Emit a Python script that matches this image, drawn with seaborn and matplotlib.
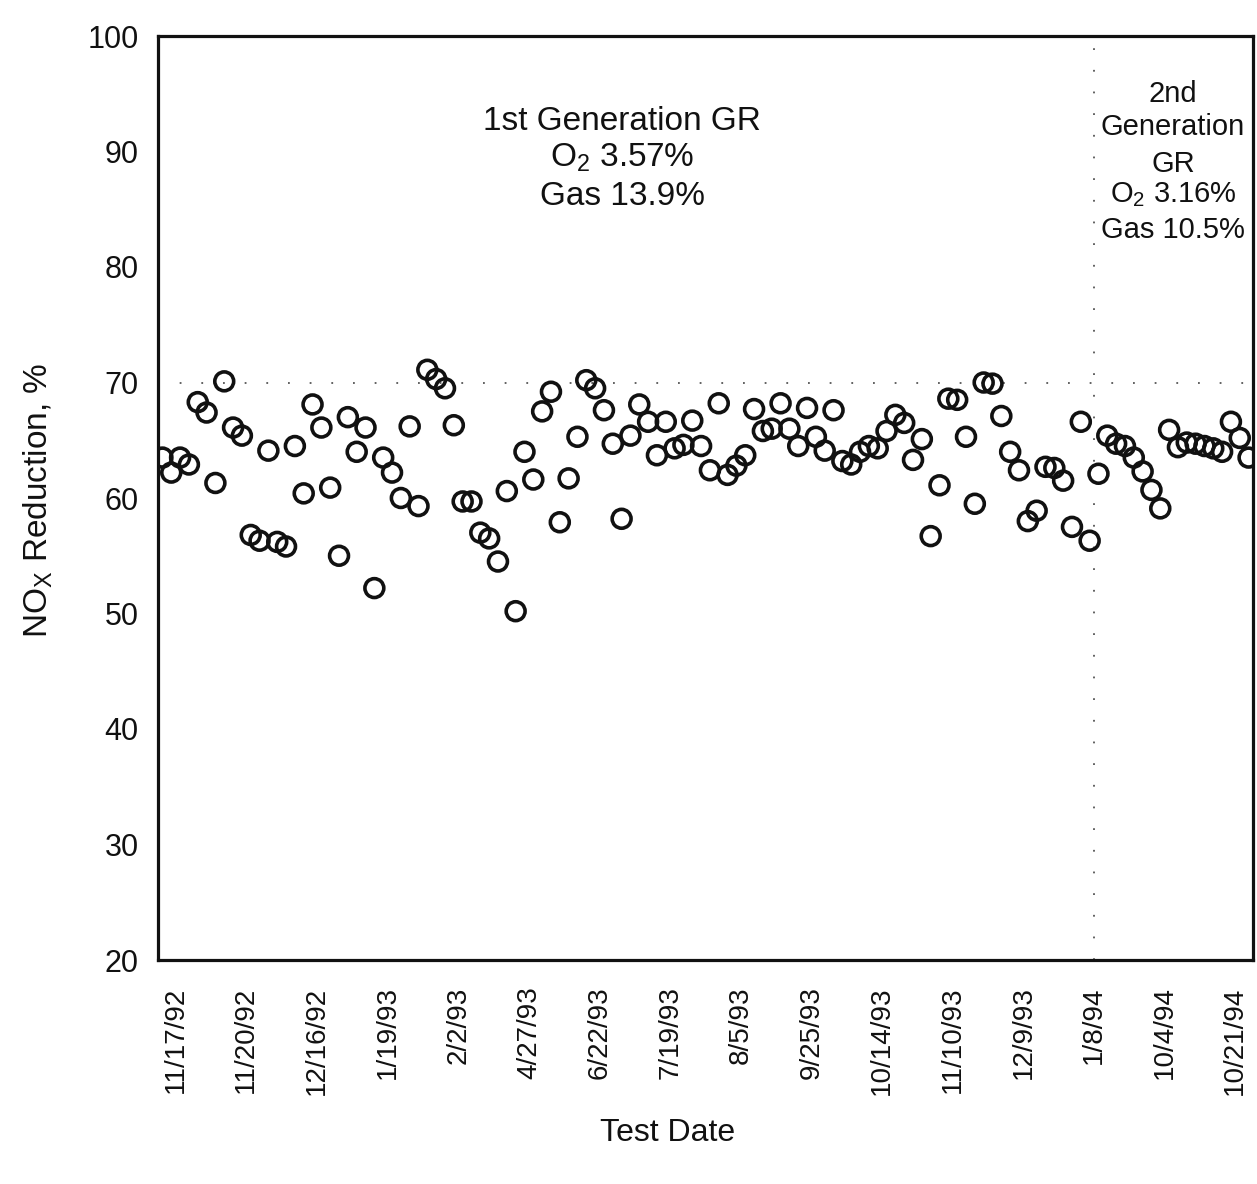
import numpy as np
import pandas as pd
import matplotlib
matplotlib.use("Agg")
import matplotlib.pyplot as plt
import seaborn as sns

# ---- data ----
nox_reduction = [
    63.5, 62.2, 63.5, 62.9, 68.3, 67.4, 61.3, 70.1, 66.1, 65.4,
    56.8, 56.3, 64.1, 56.2, 55.8, 64.5, 60.4, 68.1, 66.1, 60.9,
    55.0, 67.0, 64.0, 66.1, 52.2, 63.5, 62.2, 60.0, 66.2, 59.3,
    71.1, 70.3, 69.5, 66.3, 59.7, 59.7, 57.0, 56.5, 54.5, 60.6,
    50.2, 64.0, 61.6, 67.5, 69.2, 57.9, 61.7, 65.3, 70.2, 69.5,
    67.6, 64.7, 58.2, 65.4, 68.1, 66.6, 63.7, 66.6, 64.3, 64.6,
    66.7, 64.5, 62.4, 68.2, 62.0, 62.8, 63.7, 67.7, 65.8, 66.0,
    68.2, 66.0, 64.5, 67.8, 65.3, 64.1, 67.6, 63.2, 62.9, 64.0,
    64.5, 64.3, 65.8, 67.2, 66.5, 63.3, 65.1, 56.7, 61.1, 68.6,
    68.5, 65.3, 59.5, 70.0, 69.9, 67.1, 64.0, 62.4, 58.0, 58.9,
    62.7, 62.6, 61.5, 57.5, 66.6, 56.3, 62.1, 65.4, 64.7, 64.5,
    63.5, 62.3, 60.7, 59.1, 65.9, 64.4, 64.8, 64.7, 64.5, 64.3,
    64.0, 66.6, 65.2, 63.5,
]
tick_labels = ["11/17/92", "11/20/92", "12/16/92", "1/19/93", "2/2/93",
               "4/27/93", "6/22/93", "7/19/93", "8/5/93", "9/25/93",
               "10/14/93", "11/10/93", "12/9/93", "1/8/94", "10/4/94",
               "10/21/94"]
first_gen_count = 106   # tests before the 2nd generation GR
y_ticks = [20, 30, 40, 50, 60, 70, 80, 90, 100]

df = pd.DataFrame({"test": np.arange(len(nox_reduction)),
                   "nox": nox_reduction})

sns.set_style("white")
plt.rcParams["font.family"] = ["Liberation Sans", "DejaVu Sans"]
plt.rcParams["mathtext.default"] = "regular"

W, H = 1257, 1184
fig = plt.figure(figsize=(W / 100, H / 100), dpi=100)
ax = fig.add_axes([158 / W, (H - 960) / H, 1095 / W, 924 / H])

ink = "#111111"
sns.scatterplot(data=df, x="test", y="nox", ax=ax, marker="o", s=185,
                color=ink, linewidth=2.6, legend=False)
coll = ax.collections[0]
coll.set_facecolor("none")
coll.set_edgecolor(ink)
coll.set_linewidth(2.6)

n = len(nox_reduction)
ax.set_xlim(-0.5, n - 0.5)
ax.set_ylim(20, 100)

# reference lines
ax.axhline(70, color="#555555", lw=1.3, ls=(0, (1, 11)), zorder=0)
ax.axvline(first_gen_count - 0.5, color="#555555", lw=1.3, ls=(0, (1, 11)), zorder=0)

# ticks
ax.set_yticks(y_ticks)
ax.set_yticklabels([str(v) for v in y_ticks], fontsize=22)
tick_pos = [1.5 + 8 * i for i in range(len(tick_labels))]
ax.set_xticks(tick_pos)
ax.set_xticklabels(tick_labels, rotation=90, fontsize=20)
ax.tick_params(axis="y", length=0, pad=14, colors=ink)
ax.tick_params(axis="x", length=0, pad=19, colors=ink)

for sp in ax.spines.values():
    sp.set_visible(True)
    sp.set_linewidth(2.3)
    sp.set_color(ink)

ax.set_xlabel("Test Date", fontsize=23, color=ink)
ax.xaxis.label.set_va("center")
ax.xaxis.set_label_coords((668 - 158) / 1095, (960 - 1133) / 924)
ax.set_ylabel(r"NO$_{X}$ Reduction, %", fontsize=24, color=ink)
ax.yaxis.label.set_va("center")
ax.yaxis.set_label_coords((38 - 158) / 1095, (960 - 500) / 924)

# annotations
def frac_y(p):
    return (960 - p) / 924

tr = ax.transAxes
x1 = (622 - 158) / 1095
ax.text(x1, frac_y(130), "1st Generation GR", transform=tr, ha="center",
        va="baseline", fontsize=24, color=ink)
ax.text(x1, frac_y(167), r"O$_{2}$ 3.57%", transform=tr, ha="center",
        va="baseline", fontsize=24, color=ink)
ax.text(x1, frac_y(205), "Gas 13.9%", transform=tr, ha="center",
        va="baseline", fontsize=24, color=ink)

x2 = (1173 - 158) / 1095
for txt, base in [("2nd", 102), ("Generation", 135), ("GR", 172),
                  (r"O$_{2}$ 3.16%", 202), ("Gas 10.5%", 238)]:
    ax.text(x2, frac_y(base), txt, transform=tr, ha="center",
            va="baseline", fontsize=21, color=ink)

fig.savefig("out.png", dpi=100, facecolor="white")
